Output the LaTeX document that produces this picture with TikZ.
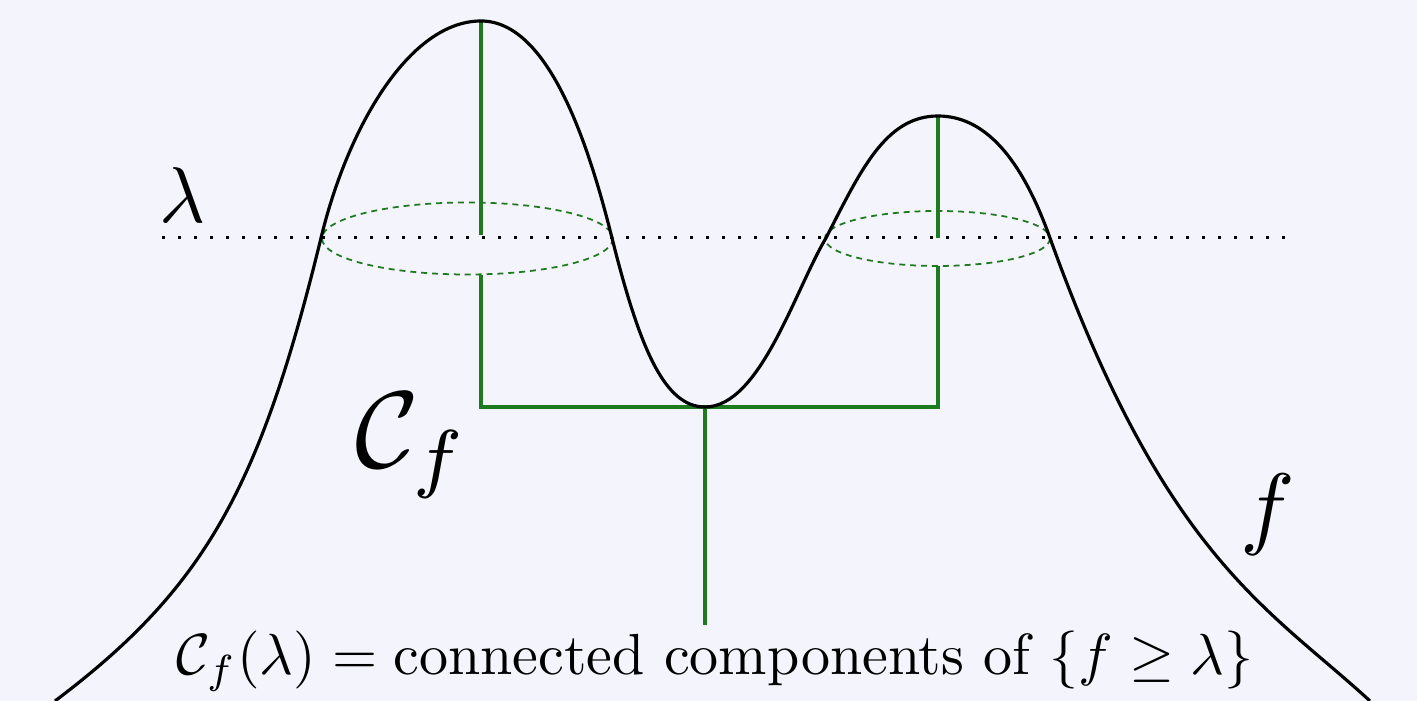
\documentclass[tikz,border=0pt]{standalone}
\usepackage{amsmath,amssymb}
\usepackage{graphicx}
\definecolor{bgc}{HTML}{F4F4FC}
\definecolor{treeg}{HTML}{1E7A1E}
\tikzset{
  curve/.style={line width=0.9pt,black},
  tree/.style={line width=1.05pt,treeg},
  level/.style={line width=0.85pt,black,dash pattern=on 0.85pt off 3.7pt},
  comp/.style={line width=0.5pt,treeg,dash pattern=on 1.7pt off 1.4pt},
  lbl/.style={inner sep=0pt,anchor=center}
}
\begin{document}
\begin{tikzpicture}[x=0.01cm,y=-0.01cm]
\fill[bgc] (0,0) rectangle (1417,701);
\useasboundingbox (0,0) rectangle (1417,701);
% tree coordinates
\coordinate (p1) at (481,21);
\coordinate (p1a) at (481,235);
\coordinate (p1b) at (481,275);
\coordinate (j1) at (481,407);
\coordinate (m) at (705,407);
\coordinate (j2) at (938,407);
\coordinate (p2b) at (938,266);
\coordinate (p2a) at (938,238);
\coordinate (p2) at (938,116);
\coordinate (root) at (705,625);
\coordinate (lvL) at (162,238);
\coordinate (lvR) at (1288,238);
% level line
\draw[level] (lvL) -- (lvR);
% components
\draw[comp] (467.5,238.5) ellipse [x radius=145.5, y radius=36];
\draw[comp] (937.5,238.5) ellipse [x radius=112.5, y radius=27.5];
% tree
\draw[tree] (p1) -- (p1a);
\draw[tree] (p1b) -- (j1) -- (j2) -- (p2b);
\draw[tree] (p2a) -- (p2);
\draw[tree] (m) -- (root);
% function curve
\draw[curve] (55,701) .. controls (205,588) and (260,488) .. (321,238)
  .. controls (348,126) and (410,21) .. (p1)
  .. controls (550,21) and (590,150) .. (612,238)
  .. controls (640,350) and (665,407) .. (m)
  .. controls (760,407) and (795,290) .. (826,238)
  .. controls (860,172) and (885,116) .. (p2)
  .. controls (990,116) and (1025,168) .. (1050,238)
  .. controls (1165,558) and (1270,609) .. (1370,701);
% labels
\node[lbl] (lam) at (183,195) {\scalebox{2.25}{$\lambda$}};
\node[lbl] (cf) at (412,446) {\scalebox{3.1}{$\mathcal{C}_f$}};
\node[lbl] (f) at (1268,515) {\scalebox{2.6}{$f$}};
\node[lbl] (cap) at (715,661) {\scalebox{1.65}{$\mathcal{C}_f(\lambda) = \text{connected components of } \{f \geq \lambda\}$}};
\end{tikzpicture}
\end{document}
